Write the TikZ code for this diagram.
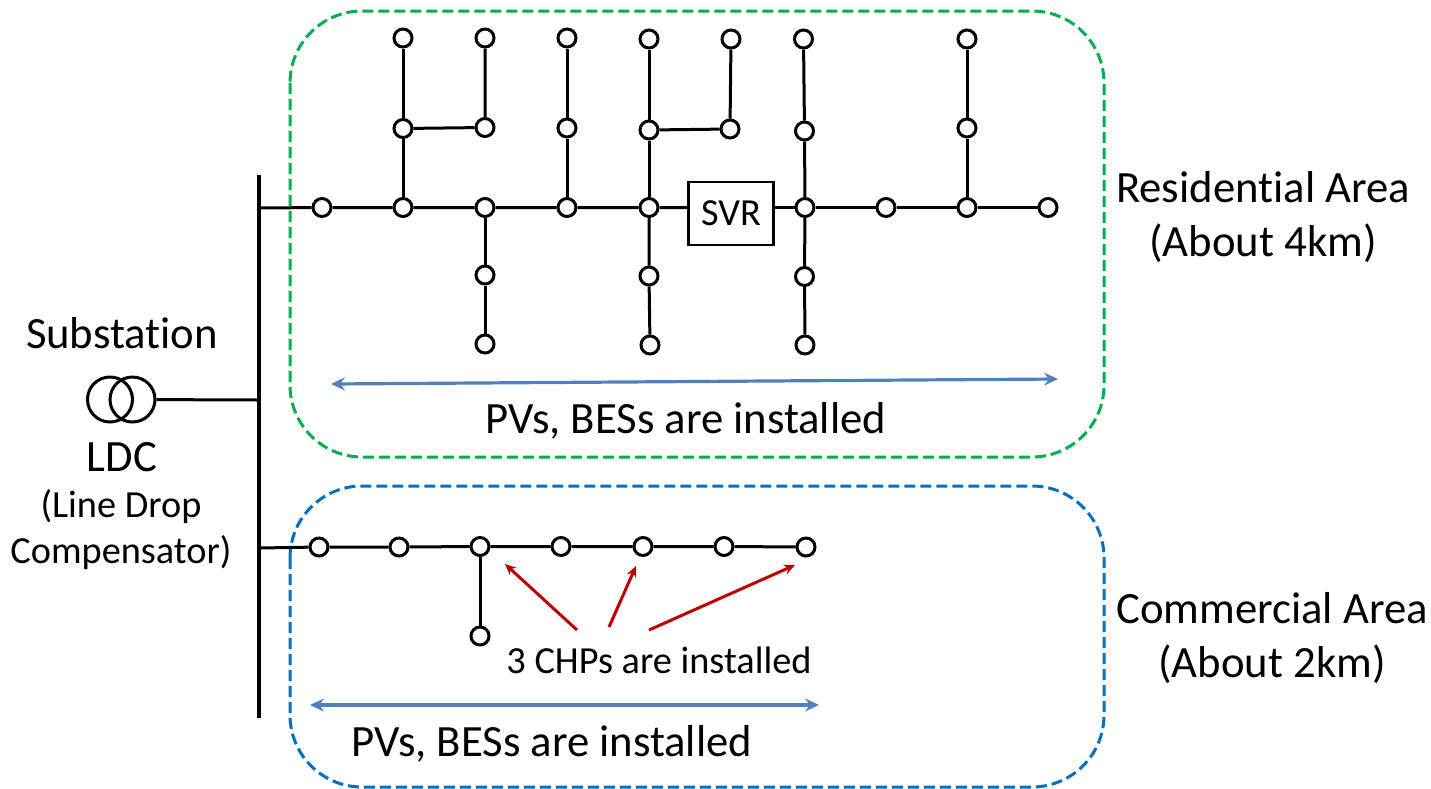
\documentclass[tikz,border=0pt]{standalone}
\usepackage{fontspec}
\setmainfont{Carlito}[Ligatures=NoCommon]
\usetikzlibrary{arrows.meta}
\definecolor{grn}{RGB}{0,176,80}
\definecolor{blu}{RGB}{0,112,192}
\definecolor{arrowblue}{RGB}{79,129,189}
\definecolor{arrowred}{RGB}{192,0,0}
\tikzset{
  x=1pt,y=-1pt,
  bus/.style={circle,draw=black,fill=white,line width=3pt,minimum size=18pt,inner sep=0pt},
  wire/.style={draw=black,line width=3pt},
  area/.style={dash pattern=on 11pt off 5pt,line width=3pt,rounded corners=72pt},
  span/.style={draw=arrowblue,line width=3.2pt,{Stealth[length=14pt,width=13pt,inset=5pt]}-{Stealth[length=14pt,width=13pt,inset=5pt]}},
  chp/.style={draw=arrowred,line width=3pt,-{Stealth[length=11pt,width=10pt]}},
  lab/.style={font=\fontsize{44.7}{54}\selectfont,align=center,inner sep=0pt},
  smalllab/.style={font=\fontsize{38.3}{46}\selectfont,align=center,inner sep=0pt},
  xf/.style={circle,draw=black,line width=3pt,minimum size=45pt,inner sep=0pt},
}
\begin{document}
\begin{tikzpicture}
\useasboundingbox (0,0) rectangle (1431,788);
\draw[area,draw=grn] (290,11) rectangle (1104,457);
\draw[area,draw=blu] (290,486) rectangle (1104,787);

\foreach \n/\x/\y in {a1/322/207.5,a2/403/207.5,a3/485/207.5,a4/567/207.5,a5/649/207.5,a6/805/207.5,a7/886/207.5,a8/967/207.5,a9/1048/207.5,
 b1/403/128.5,b2/403/38,b3/485/127.5,b4/485/38,b5/567/128,b6/567/38,b7/649/130,b8/649/39,b9/730/129,b10/731/39,b11/804.5/131,b12/803.5/39,b13/967/128,b14/967/39,
 d1/485/275,d2/485/344,d3/649/276,d4/650/345,d5/804.5/276.5,d6/805/345,
 c1/319/547,c2/399/547,c3/480/546.5,c4/561/546.5,c5/643/546.5,c6/724/546.5,c7/806/547,c8/480/636}
  {\node[bus] (\n) at (\x,\y) {};}
\node[draw=black,fill=white,line width=2.4pt,minimum width=85pt,minimum height=63pt,inner sep=0pt,font=\fontsize{38.3}{46}\selectfont] (svr) at (731,213.5) {SVR};

\coordinate (bt) at (259,175);
\coordinate (bb) at (259,718);
\coordinate (b1j) at (259,208);
\coordinate (b2j) at (259,548);
\coordinate (b3j) at (259,400);
\draw[wire,line width=3.6pt] (bt) -- (bb);
\draw[wire] (b1j) -- (a1) -- (a2) -- (a3) -- (a4) -- (a5) -- (svr.west |- a5);
\draw[wire] (svr.east |- a6) -- (a6) -- (a7) -- (a8) -- (a9);
\draw[wire] (a2) -- (b1) -- (b2);
\draw[wire] (b1) -- (b3) -- (b4);
\draw[wire] (a4) -- (b5) -- (b6);
\draw[wire] (a5) -- (b7) -- (b8);
\draw[wire] (b7) -- (b9) -- (b10);
\draw[wire] (a6) -- (b11) -- (b12);
\draw[wire] (a8) -- (b13) -- (b14);
\draw[wire] (a3) -- (d1) -- (d2);
\draw[wire] (a5) -- (d3) -- (d4);
\draw[wire] (a6) -- (d5) -- (d6);
\draw[wire] (b2j) -- (c1) -- (c2) -- (c3) -- (c4) -- (c5) -- (c6) -- (c7);
\draw[wire] (c3) -- (c8);

\node[xf] (t1) at (110,399.5) {};
\node[xf] (t2) at (132.5,399.5) {};
\draw[wire] (t2) -- (b3j);

\node[lab] (sub) at (122,333.5) {Substation};
\node[lab] (ldc) at (122,457) {LDC};
\node[smalllab] (ldcn) at (121,530) {(Line Drop\\Compensator)};
\node[lab] (res) at (1263,217) {Residential Area\\(About 4km)};
\node[lab] (com) at (1272,638.5) {Commercial Area\\(About 2km)};
\node[lab] (pv1) at (686,420.5) {PVs, BESs are installed};
\node[lab] (pv2) at (552,744) {PVs, BESs are installed};
\node[smalllab] (chps) at (659,660) {3 CHPs are installed};

\coordinate (s1a) at (331,384);
\coordinate (s1b) at (1058,379);
\coordinate (s2a) at (310,705);
\coordinate (s2b) at (819,705);
\draw[span] (s1a) -- (s1b);
\draw[span] (s2a) -- (s2b);

\coordinate (r1a) at (577,630);
\coordinate (r1b) at (505,564);
\coordinate (r2a) at (609,627);
\coordinate (r2b) at (636,566);
\coordinate (r3a) at (649,630);
\coordinate (r3b) at (795,565);
\draw[chp] (r1a) -- (r1b);
\draw[chp] (r2a) -- (r2b);
\draw[chp] (r3a) -- (r3b);
\end{tikzpicture}
\end{document}
